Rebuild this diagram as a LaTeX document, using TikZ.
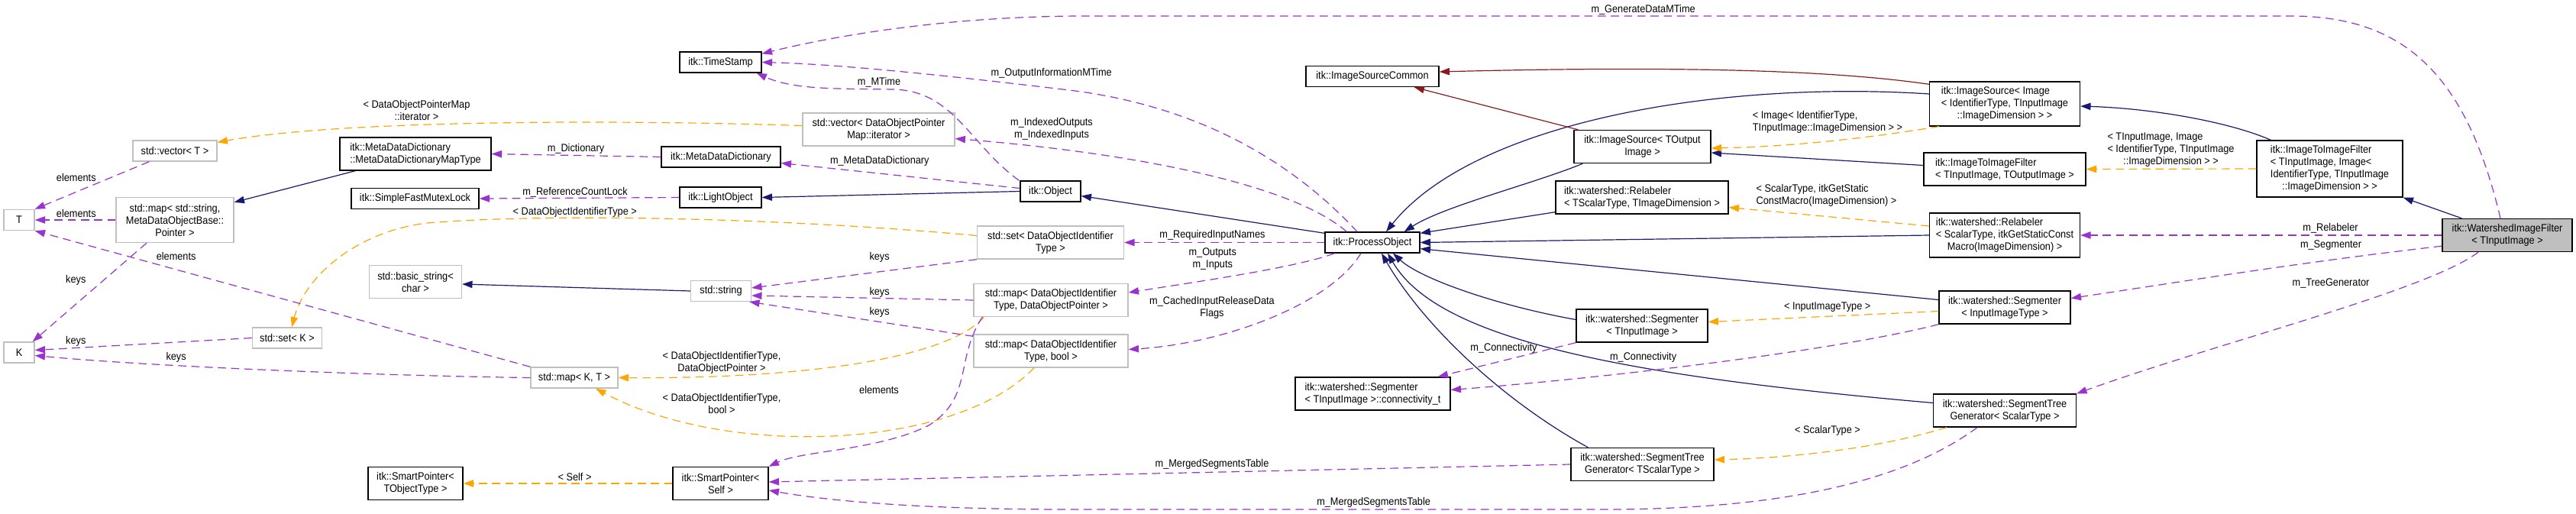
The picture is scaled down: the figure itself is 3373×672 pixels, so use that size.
\documentclass[tikz,border=0pt]{standalone}
\usepackage{fontspec}
\setmainfont{Liberation Sans}[FakeStretch=0.91]
\usetikzlibrary{arrows.meta,calc}
\newdimen\pxu \pxu=0.75pt
\definecolor{inhblue}{HTML}{191970}
\definecolor{privred}{HTML}{8B1A1A}
\definecolor{usepurple}{HTML}{9A32CD}
\definecolor{tplorange}{HTML}{FFA500}
\definecolor{boxgray}{HTML}{BFBFBF}
\tikzset{
  every node/.style={font=\fontsize{10.5pt}{12pt}\selectfont, inner sep=0pt},
  boxbase/.style 2 args={minimum width=#1\pxu, minimum height=#2\pxu, line width=1pt},
  gbox/.style 2 args={boxbase={#1}{#2}, draw=boxgray, align=center},
  bbox/.style 2 args={boxbase={#1}{#2}, draw=black, align=center},
  tbox/.style 2 args={boxbase={#1}{#2}, draw=black},
  lbl/.style={align=center},
  lbll/.style={align=left},
  tip/.style={-{Triangle[length=10pt,width=7pt]}},
  inh/.style={draw=inhblue, line width=0.9pt, tip},
  priv/.style={draw=privred, line width=0.9pt, tip},
  use/.style={draw=usepurple, line width=0.9pt, dash pattern=on 8pt off 5pt, tip},
  tpl/.style={draw=tplorange, line width=0.9pt, dash pattern=on 8pt off 5pt, tip},
}
\begin{document}
\begin{tikzpicture}[x=0.75pt,y=-0.75pt]
\useasboundingbox (0,0) rectangle (3373,672);
% ---------- gray (std) boxes
\node[gbox={110}{27}] (vecT) at (229,197.5) {std::vector< T >};
\node[gbox={154}{59}] (mapStr) at (229,288) {std::map< std::string,\\MetaDataObjectBase::\\Pointer >};
\node[gbox={40}{27}] (Tn) at (25,288) {T};
\node[gbox={40}{27}] (Kn) at (25,461.5) {K};
\node[gbox={91}{27}] (setK) at (376,442.5) {std::set< K >};
\node[gbox={121}{43}] (bstr) at (544,369) {std::basic\_string<\\char >};
\node[gbox={199}{43}] (vecDOPM) at (1150.5,169.5) {std::vector< DataObjectPointer\\Map::iterator >};
\node[gbox={192}{43}] (setDOIT) at (1375.5,317.5) {std::set< DataObjectIdentifier\\Type >};
\node[gbox={79}{27}] (str) at (944,381) {std::string};
\node[gbox={202}{43}] (mapDOP) at (1376,393) {std::map< DataObjectIdentifier\\Type, DataObjectPointer >};
\node[gbox={202}{43}] (mapBool) at (1376,459.5) {std::map< DataObjectIdentifier\\Type, bool >};
\node[gbox={114}{27}] (mapKT) at (752,494.5) {std::map< K, T >};
% ---------- black (itk) boxes
\node[bbox={198}{43},align=left] (mdmt) at (544,201.5) {itk::MetaDataDictionary\\::MetaDataDictionaryMapType};
\node[bbox={167}{27}] (mutex) at (543.5,260) {itk::SimpleFastMutexLock};
\node[bbox={124}{43}] (spTO) at (544,633) {itk::SmartPointer<\\TObjectType >};
\node[bbox={107}{27}] (ts) at (943.5,81.5) {itk::TimeStamp};
\node[bbox={156}{27}] (mdd) at (944,205.5) {itk::MetaDataDictionary};
\node[bbox={107}{27}] (lobj) at (943.5,258.5) {itk::LightObject};
\node[bbox={79}{27}] (obj) at (1375.5,250.5) {itk::Object};
\node[bbox={125}{43}] (spSelf) at (943.5,633) {itk::SmartPointer<\\Self >};
\node[bbox={174}{27}] (isc) at (1797,100) {itk::ImageSourceCommon};
\node[bbox={124}{27}] (po) at (1797,317.5) {itk::ProcessObject};
\node[bbox={203}{43},align=left] (conn) at (1797.5,515.5) {itk::watershed::Segmenter\\< TInputImage >::connectivity\_t};
\node[bbox={179}{43}] (isT) at (2150.5,192) {itk::ImageSource< TOutput\\Image >};
\node[bbox={226}{43},align=left] (relT) at (2150,258.5) {itk::watershed::Relabeler\\< TScalarType, TImageDimension >};
\node[bbox={172}{43}] (segT) at (2150,426.5) {itk::watershed::Segmenter\\< TInputImage >};
\node[bbox={187}{43}] (stgT) at (2150.5,608) {itk::watershed::SegmentTree\\Generator< TScalarType >};
\node[tbox={197}{58}] (isI) at (2625,136) {\begin{tabular}{@{}l@{}}itk::ImageSource< Image\\< IdentifierType, TInputImage\\\multicolumn{1}{@{}c@{}}{::ImageDimension > >}\end{tabular}};
\node[bbox={212}{43},align=left] (itifT) at (2625,221.5) {itk::ImageToImageFilter\\< TInputImage, TOutputImage >};
\node[tbox={197}{58}] (relS) at (2625,308) {\begin{tabular}{@{}l@{}}itk::watershed::Relabeler\\< ScalarType, itkGetStaticConst\\\multicolumn{1}{@{}c@{}}{Macro(ImageDimension) >}\end{tabular}};
\node[bbox={172}{43}] (segI) at (2625,402.5) {itk::watershed::Segmenter\\< InputImageType >};
\node[bbox={187}{43}] (stgS) at (2625,537.5) {itk::watershed::SegmentTree\\Generator< ScalarType >};
\node[tbox={191}{74}] (itifI) at (3050.5,221) {\begin{tabular}{@{}l@{}}itk::ImageToImageFilter\\< TInputImage, Image<\\\multicolumn{1}{@{}c@{}}{IdentifierType, TInputImage}\\\multicolumn{1}{@{}c@{}}{::ImageDimension > >}\end{tabular}};
\node[bbox={170}{43},fill=boxgray] (wif) at (3283,308) {itk::WatershedImageFilter\\< TInputImage >};
% ---------- inheritance (public)
\draw[inh] ($(mdmt.south west)+(21,0)$) -- ($(mapStr.north east)+(0,7)$);
\draw[inh] (str.west) -- ($(bstr.east)+(0,3)$);
\draw[inh] (obj.west) -- (lobj.east);
\draw[inh] ($(po.north west)+(0,2)$) -- ($(obj.east)+(0,6)$);
\draw[inh] ($(isI.west)+(0,-13)$) .. controls (2250,105) and (1930,160) .. ($(po.north)+(18,0)$);
\draw[inh] ($(isT.south west)+(12,0)$) .. controls (2010,240) and (1890,270) .. ($(po.north east)+(-21,0)$);
\draw[inh] ($(relT.south west)+(0,-3)$) -- ($(po.north east)+(0,2)$);
\draw[inh] (relS.west) -- (po.east);
\draw[inh] ($(segI.west)+(0,-10)$) -- ($(po.south east)+(0,-6)$);
\draw[inh] ($(segT.west)+(0,-8)$) .. controls (1960,400) and (1860,365) .. ($(po.south)+(27,0)$);
\draw[inh] ($(stgS.west)+(0,-10)$) .. controls (2100,490) and (1880,440) .. ($(po.south)+(20,0)$);
\draw[inh] ($(stgT.north west)+(23,0)$) .. controls (1960,520) and (1860,420) .. ($(po.south)+(12,0)$);
\draw[inh] ($(itifT.west)+(0,-5)$) -- ($(isT.east)+(0,8)$);
\draw[inh] ($(itifI.north west)+(19,0)$) .. controls (2920,160) and (2820,142) .. ($(isI.east)+(0,3)$);
\draw[inh] ($(wif.north west)+(26,0)$) -- (itifI.south east);
% ---------- inheritance (private)
\draw[priv] ($(isI.north west)+(0,4)$) .. controls (2400,92) and (2200,86) .. ($(isc.east)+(0,-6)$);
\draw[priv] ($(isT.north west)+(6,0)$) -- ($(isc.south east)+(-33,0)$);
% ---------- template instances
\draw[tpl] ($(vecDOPM.west)+(0,-5)$) .. controls (750,155) and (430,160) .. ($(vecT.north east)+(0,3)$);
\draw[tpl] ($(setDOIT.west)+(0,-9)$) .. controls (1000,283) and (700,280) .. (560,292) .. controls (470,302) and (400,360) .. ($(setK.north)+(6,0)$);
\draw[tpl] ($(mapDOP.south west)+(14,0)$) .. controls (1240,470) and (1050,496) .. (mapKT.east);
\draw[tpl] ($(mapBool.south)+(-22,0)$) .. controls (1250,590) and (950,600) .. ($(mapKT.south)+(28,0)$);
\draw[tpl] (spSelf.west) -- (spTO.east);
\draw[tpl] ($(isI.south west)+(13,0)$) .. controls (2450,180) and (2350,192) .. ($(isT.east)+(0,2)$);
\draw[tpl] (itifI.west) -- (itifT.east);
\draw[tpl] ($(relS.west)+(0,-12)$) -- ($(relT.east)+(0,13)$);
\draw[tpl] ($(segI.west)+(0,5)$) -- ($(segT.east)+(0,-5)$);
\draw[tpl] ($(stgS.south west)+(18,0)$) .. controls (2450,590) and (2330,600) .. ($(stgT.east)+(0,-6)$);
% ---------- usage
\draw[use] ($(vecT.south west)+(22,0)$) -- (Tn.north east);
\draw[use] (mapStr.west) -- (Tn.east);
\draw[use] (mapKT.north west) -- (Tn.south east);
\draw[use] ($(mapStr.south)+(-37,0)$) -- ($(Kn.north east)+(-3,0)$);
\draw[use] (setK.west) -- ($(Kn.east)+(0,-3)$);
\draw[use] (mapKT.west) .. controls (500,492) and (200,480) .. ($(Kn.east)+(0,4)$);
\draw[use] (mdd.west) -- (mdmt.east);
\draw[use] (lobj.west) -- (mutex.east);
\draw[use] ($(wif.north)+(-9,0)$) .. controls (3230,100) and (3150,21) .. (3000,21) -- (1420,21) .. controls (1250,21) and (1100,45) .. ($(ts.north east)+(0,3)$);
\draw[use] ($(po.north)+(-20,0)$) .. controls (1700,220) and (1580,140) .. (1400,118) .. controls (1250,100) and (1100,84) .. (ts.east);
\draw[use] ($(obj.north west)+(-1,0)$) .. controls (1270,190) and (1250,120) .. (1171,117) .. controls (1100,116) and (1040,118) .. ($(ts.south east)+(-7,0)$);
\draw[use] ($(po.north west)+(29,0)$) .. controls (1690,240) and (1480,200) .. ($(vecDOPM.east)+(0,12)$);
\draw[use] ($(obj.west)+(0,-4)$) -- ($(mdd.east)+(0,8)$);
\draw[use] (setDOIT.south west) -- ($(str.east)+(0,-4)$);
\draw[use] (mapDOP.west) -- ($(str.east)+(0,6)$);
\draw[use] ($(mapBool.north west)+(0,3)$) -- ($(str.south east)+(-3,0)$);
\draw[use] (po.west) -- (setDOIT.east);
\draw[use] ($(po.south west)+(13,0)$) .. controls (1700,350) and (1560,370) .. ($(mapDOP.east)+(0,-10)$);
\draw[use] ($(po.south)+(-15,0)$) .. controls (1740,400) and (1600,450) .. ($(mapBool.east)+(0,-2)$);
\draw[use] ($(mapDOP.south west)+(12,0)$) .. controls (1250,470) and (1275,520) .. (1216,557) .. controls (1150,590) and (1050,590) .. (spSelf.north east);
\draw[use] (stgT.west) -- ($(spSelf.east)+(0,-2)$);
\draw[use] ($(stgS.south)+(-36,0)$) .. controls (2480,640) and (2300,667) .. (2100,667) -- (1400,667) .. controls (1200,667) and (1080,655) .. ($(spSelf.east)+(0,9)$);
\draw[use] (segT.south west) -- ($(conn.north east)+(-17,0)$);
\draw[use] (segI.south west) .. controls (2400,460) and (2100,495) .. ($(conn.east)+(0,-5)$);
\draw[use] (wif.west) -- (relS.east);
\draw[use] ($(wif.south west)+(0,-8)$) .. controls (3000,345) and (2850,370) .. ($(segI.east)+(0,-12)$);
\draw[use] ($(wif.south)+(-38,0)$) .. controls (3180,380) and (2900,450) .. (stgS.north east);
% ---------- labels
\node[lbl] (l1) at (99.8,232.3) {elements};
\node[lbl] (l2) at (99.8,279.3) {elements};
\node[lbl] (l3) at (230.6,335) {elements};
\node[lbl] (l4) at (99.3,366.7) {keys};
\node[lbl] (l5) at (99.3,447.3) {keys};
\node[lbl] (l6) at (230.6,467.7) {keys};
\node[lbl] (l7) at (545.5,144.7) {< DataObjectPointerMap\\::iterator >};
\node[lbl] (l8) at (754,195) {m\_Dictionary};
\node[lbl] (l9) at (753,251.7) {m\_ReferenceCountLock};
\node[lbl] (l10) at (752.8,278.3) {< DataObjectIdentifierType >};
\node[lbl] (l11) at (1151,107.7) {m\_MTime};
\node[lbl] (l12) at (1376.7,95.7) {m\_OutputInformationMTime};
\node[lbl] (l13) at (1377,168.8) {m\_IndexedOutputs\\m\_IndexedInputs};
\node[lbl] (l14) at (1151.8,210.7) {m\_MetaDataDictionary};
\node[lbl] (l15) at (1151.6,336.7) {keys};
\node[lbl] (l16) at (1151.6,383.3) {keys};
\node[lbl] (l17) at (1151.6,408.7) {keys};
\node[lbl] (l18) at (945,475.3) {< DataObjectIdentifierType,\\DataObjectPointer >};
\node[lbl] (l19) at (945,528.7) {< DataObjectIdentifierType,\\bool >};
\node[lbl] (l20) at (1151,510.7) {elements};
\node[lbl] (l21) at (752.5,624) {< Self >};
\node[lbl] (l22) at (1587.5,308.3) {m\_RequiredInputNames};
\node[lbl] (l23) at (1587.7,338.8) {m\_Outputs\\m\_Inputs};
\node[lbl] (l24) at (1587,402.7) {m\_CachedInputReleaseData\\Flags};
\node[lbl] (l25) at (1969,455.7) {m\_Connectivity};
\node[lbl] (l26) at (2151.6,467.7) {m\_Connectivity};
\node[lbl] (l27) at (1587,608.3) {m\_MergedSegmentsTable};
\node[lbl] (l28) at (1798.6,658.3) {m\_MergedSegmentsTable};
\node[lbl] (l29) at (2151.6,12.7) {m\_GenerateDataMTime};
\node[lbll] (l30) at (2393,159.7) {< Image< IdentifierType,\\TInputImage::ImageDimension > >};
\node[lbll] (l31) at (2391.5,256.3) {< ScalarType, itkGetStatic\\ConstMacro(ImageDimension) >};
\node[lbl] (l32) at (2392.7,402.3) {< InputImageType >};
\node[lbl] (l33) at (2393,564.3) {< ScalarType >};
\node (l34) at (2842.5,196.7) {\begin{tabular}{@{}l@{}}< TInputImage, Image\\< IdentifierType, TInputImage\\\multicolumn{1}{@{}c@{}}{::ImageDimension > >}\end{tabular}};
\node[lbl] (l35) at (3051.5,299.3) {m\_Relabeler};
\node[lbl] (l36) at (3052,320.7) {m\_Segmenter};
\node[lbl] (l37) at (3052,370.7) {m\_TreeGenerator};
\end{tikzpicture}
\end{document}
